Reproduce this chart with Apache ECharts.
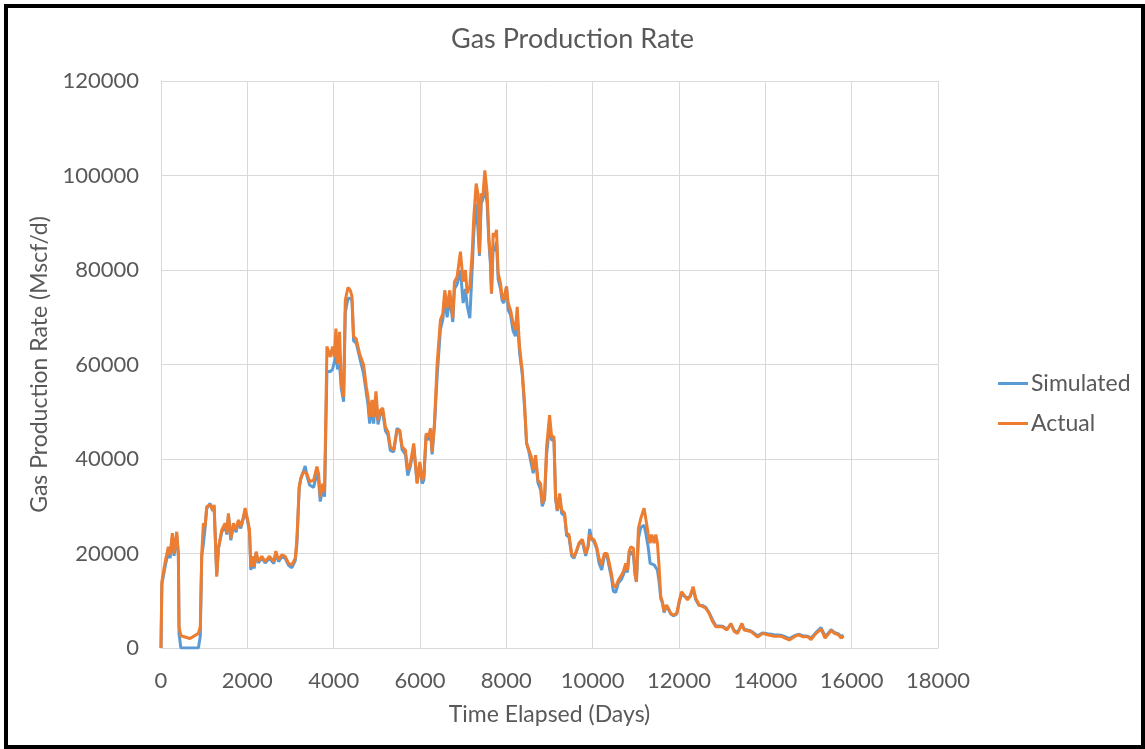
<!DOCTYPE html>
<html>
<head>
<meta charset="utf-8">
<script src="https://cdn.jsdelivr.net/npm/echarts@6/dist/echarts.min.js"></script>
<style>
  html, body { margin: 0; padding: 0; background: #fff; }
  #chart { width: 1145px; height: 749px; }
</style>
</head>
<body>
<div id="chart"></div>
<script>
// Gas Production Rate - Simulated vs Actual

var days = [0, 20, 90, 170, 210, 263, 302, 364, 402, 418, 460, 673, 866, 910, 944, 982, 1021, 1059, 1137, 1199,
  1230, 1291, 1330, 1369, 1407, 1485, 1523, 1562, 1617, 1678, 1740, 1794, 1848, 1910, 1949, 2003, 2050, 2081, 2120, 2158,
  2204, 2258, 2335, 2413, 2514, 2614, 2660, 2722, 2800, 2877, 2955, 3032, 3110, 3148, 3202, 3241, 3302, 3341, 3380, 3442,
  3535, 3612, 3651, 3689, 3751, 3789, 3844, 3921, 3975, 4014, 4053, 4091, 4137, 4176, 4230, 4269, 4331, 4385, 4424, 4462,
  4524, 4601, 4694, 4756, 4795, 4834, 4888, 4926, 4981, 5027, 5081, 5136, 5198, 5260, 5313, 5391, 5468, 5530, 5585, 5662,
  5716, 5778, 5855, 5933, 5995, 6049, 6088, 6142, 6204, 6243, 6281, 6335, 6397, 6473, 6528, 6574, 6628, 6690, 6760, 6798,
  6860, 6937, 6999, 7053, 7092, 7154, 7208, 7247, 7301, 7340, 7378, 7417, 7456, 7502, 7556, 7595, 7634, 7656, 7695, 7734,
  7772, 7811, 7865, 7904, 7943, 8004, 8043, 8097, 8159, 8213, 8252, 8306, 8368, 8422, 8468, 8523, 8577, 8623, 8677, 8732,
  8794, 8832, 8886, 8933, 9002, 9049, 9103, 9141, 9180, 9234, 9281, 9350, 9396, 9451, 9513, 9567, 9629, 9683, 9761, 9838,
  9892, 9930, 9977, 10031, 10093, 10147, 10209, 10271, 10332, 10387, 10433, 10479, 10534, 10596, 10665, 10712, 10766, 10805, 10843, 10882,
  10944, 10983, 11014, 11060, 11114, 11191, 11230, 11284, 11331, 11369, 11423, 11462, 11500, 11539, 11577, 11616, 11654, 11708, 11755, 11809,
  11871, 11948, 12002, 12057, 12119, 12196, 12258, 12327, 12389, 12466, 12544, 12621, 12698, 12776, 12853, 13008, 13109, 13202, 13279, 13357,
  13457, 13511, 13666, 13821, 13937, 14053, 14208, 14363, 14456, 14556, 14672, 14765, 14866, 14982, 15059, 15175, 15291, 15384, 15446, 15523,
  15601, 15694, 15756, 15814];

var actual = [0, 14000, 17900, 21400, 19700, 24300, 20000, 24600, 20100, 4500, 2600, 2000, 3100, 4500, 20000, 26400, 25700, 29900, 30300, 29200,
  30300, 15100, 21100, 21300, 25000, 26400, 24300, 28500, 23200, 26400, 25000, 27100, 25700, 27800, 29600, 27300, 25000, 17200, 19400, 17200,
  20400, 18300, 19400, 18300, 19400, 18300, 20500, 18700, 19700, 19400, 17900, 17600, 19000, 22900, 34100, 35900, 37300, 37700, 36900, 35200,
  35500, 38400, 36900, 32000, 34800, 33100, 63800, 61600, 63800, 61600, 67600, 60200, 66900, 56000, 53200, 73600, 76300, 75700, 74400, 65900,
  65400, 62300, 59900, 55300, 53200, 48900, 52500, 48900, 54300, 48200, 50300, 50800, 46800, 45700, 42600, 41900, 46100, 46100, 42600, 41900,
  37700, 39100, 43300, 34800, 39400, 35500, 36200, 45400, 44700, 46500, 41500, 47600, 60200, 69400, 70800, 75700, 72000, 75700, 69800, 77500,
  78600, 83900, 77500, 80000, 75100, 76500, 83500, 91300, 98300, 96200, 83500, 96200, 95500, 101100, 96200, 87000, 82100, 75100, 87800, 87000,
  88500, 79300, 77200, 74400, 73700, 76500, 73000, 71500, 68700, 67300, 72200, 63700, 58800, 51800, 43300, 41900, 40500, 37700, 40800, 35500,
  34800, 30600, 32000, 42600, 49300, 44700, 44700, 32000, 29200, 32700, 29200, 28500, 24300, 24000, 20000, 19300, 20700, 22200, 23000, 20000,
  21400, 23900, 23200, 22900, 21400, 19000, 17600, 20000, 20000, 17900, 15800, 13300, 12900, 14400, 15400, 16200, 17900, 16500, 20400, 21400,
  21100, 15800, 14000, 25300, 27400, 29600, 27400, 24300, 22200, 24000, 22200, 24000, 22200, 17200, 10900, 9800, 7700, 9100, 8400, 7300,
  7000, 7300, 9800, 11900, 11200, 10200, 10900, 13000, 10500, 9100, 8800, 8400, 7300, 5600, 4500, 4500, 3800, 5200, 3500, 3100,
  5200, 3800, 3500, 2300, 3100, 2800, 2500, 2500, 2100, 1700, 2400, 2800, 2400, 2400, 1800, 3100, 4000, 2100, 2800, 3700,
  3100, 2800, 2100, 2500];

var simulated = [0, 13500, 17000, 20500, 19000, 23500, 19500, 24000, 19500, 3000, 0, 0, 0, 2500, 19500, 22000, 25500, 29500, 30600, 29000,
  30000, 15500, 21000, 21000, 24500, 26000, 24000, 28000, 22800, 26000, 24500, 26800, 25300, 27500, 29000, 27000, 24500, 16500, 19000, 16800,
  20000, 18000, 19000, 18000, 19000, 17900, 20000, 18300, 19300, 19000, 17500, 17000, 18500, 22000, 34000, 36000, 37500, 38500, 36500, 34500,
  34000, 37000, 35500, 31000, 34000, 32000, 58500, 58500, 59000, 59000, 62000, 59000, 60000, 55000, 52100, 71000, 74000, 74000, 73500, 65000,
  64500, 61500, 58000, 54000, 51500, 47500, 51000, 47500, 53000, 47300, 49500, 50000, 46000, 45000, 41800, 41500, 46500, 46000, 42000, 41000,
  36500, 38500, 42500, 35000, 39000, 34800, 35500, 45000, 44000, 46000, 41000, 47000, 57500, 67500, 69500, 74000, 70000, 74000, 69000, 76000,
  77000, 80000, 73000, 76000, 72500, 69800, 80000, 88000, 94000, 89100, 83000, 94000, 95000, 97500, 94000, 86000, 81000, 75000, 85000, 84000,
  86000, 78000, 76000, 73500, 73000, 76500, 71500, 70500, 67000, 66000, 70000, 62500, 58000, 51000, 43500, 41500, 39000, 37000, 40300, 35000,
  33500, 30000, 31500, 41000, 47000, 44000, 44000, 31500, 29000, 32000, 28500, 28000, 23800, 23500, 19500, 19000, 20500, 22000, 22500, 19500,
  21500, 25200, 23000, 22500, 21000, 18000, 16500, 19500, 19500, 17000, 15000, 12000, 11800, 13800, 14500, 15500, 17000, 16000, 19500, 20500,
  19500, 15500, 14000, 23200, 25500, 26000, 24300, 21500, 17900, 17800, 17600, 17200, 16500, 14000, 10500, 9500, 7500, 8800, 8200, 7200,
  6800, 7200, 9500, 11500, 11000, 10500, 11000, 12500, 10200, 9000, 9000, 8600, 7500, 6000, 4700, 4600, 4000, 5000, 3700, 3300,
  5000, 4000, 3600, 2600, 3200, 3000, 2800, 2700, 2400, 2000, 2600, 2900, 2600, 2500, 2100, 3300, 4300, 2500, 3000, 3900,
  3300, 3000, 2400, 2700];

var xTicks = { min: 0, max: 18000, step: 2000 };
var yTicks = { min: 0, max: 120000, step: 20000 };

var font = 'Lato, "Open Sans", sans-serif';
var grey = '#595959';
var gridColor = '#d9d9d9';

var chart = echarts.init(document.getElementById('chart'));

var option = {
    backgroundColor: '#fff',
    textStyle: { fontFamily: font },
    title: {
        text: 'Gas Production Rate',
        left: 'center',
        top: 21,
        textStyle: { fontSize: 27, fontWeight: 'normal', color: grey, fontFamily: font }
    },
    grid: {
        left: 161,
        right: 207,
        top: 81,
        bottom: 101
    },
    legend: {
        orient: 'vertical',
        left: 993,
        top: 367,
        icon: 'rect',
        itemWidth: 30,
        itemHeight: 3,
        itemGap: 17,
        data: ['Simulated', 'Actual'],
        textStyle: { fontSize: 23, color: grey, fontFamily: font, padding: [0, 0, 0, -2] }
    },
    xAxis: {
        type: 'value',
        min: xTicks.min,
        max: xTicks.max,
        interval: xTicks.step,
        name: 'Time Elapsed (Days)',
        nameLocation: 'middle',
        nameGap: 55,
        nameTextStyle: { fontSize: 23, color: grey, fontFamily: font },
        axisLine: { lineStyle: { color: gridColor, width: 1 } },
        axisTick: { show: false },
        axisLabel: { fontSize: 22, color: grey, margin: 22, fontFamily: font, formatter: function (v) { return String(v); } },
        splitLine: { show: true, lineStyle: { color: gridColor, width: 1 } }
    },
    yAxis: {
        type: 'value',
        min: yTicks.min,
        max: yTicks.max,
        interval: yTicks.step,
        name: 'Gas Production Rate (Mscf/d)',
        nameLocation: 'middle',
        nameGap: 93,
        nameTextStyle: { fontSize: 23, color: grey, fontFamily: font },
        axisLine: { show: true, lineStyle: { color: gridColor, width: 1 } },
        axisTick: { show: false },
        axisLabel: { fontSize: 22, color: grey, margin: 22, fontFamily: font, formatter: function (v) { return String(v); } },
        splitLine: { show: true, lineStyle: { color: gridColor, width: 1 } }
    },
    series: [
        {
            name: 'Simulated',
            type: 'line',
            symbol: 'none',
            color: '#5B9BD5',
            lineStyle: { width: 3, color: '#5B9BD5' },
            data: days.map(function (d, i) { return [d, simulated[i]]; })
        },
        {
            name: 'Actual',
            type: 'line',
            symbol: 'none',
            color: '#ED7D31',
            lineStyle: { width: 3, color: '#ED7D31' },
            data: days.map(function (d, i) { return [d, actual[i]]; })
        }
    ],
    graphic: [
        {
            type: 'rect',
            silent: true,
            shape: { x: 6, y: 6, width: 1137, height: 741 },
            style: { fill: 'none', stroke: '#000', lineWidth: 4 }
        }
    ]
};

chart.setOption(option);
</script>
</body>
</html>
